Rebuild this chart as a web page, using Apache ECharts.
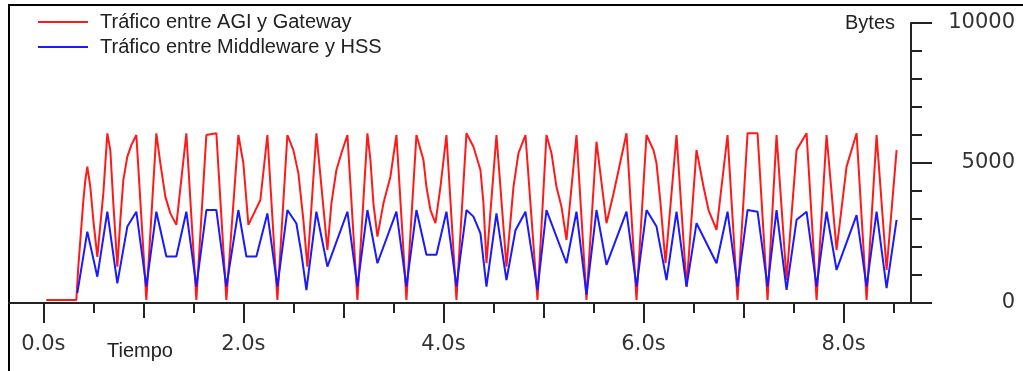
<!DOCTYPE html>
<html><head><meta charset="utf-8">
<script src="https://cdn.jsdelivr.net/npm/echarts@6/dist/echarts.min.js"></script>
<style>html,body{margin:0;padding:0;background:#fff}#c{width:1023px;height:371px}</style>
</head><body><div id="c"></div>
<script>
const seriesNames = ['Tráfico entre AGI y Gateway', 'Tráfico entre Middleware y HSS'];
const yAxisName = 'Bytes';
const xAxisName = 'Tiempo';
// [time (s), bytes]
const redData = [
[0.03,110],[0.33,110],[0.35,1300],[0.40,3650],[0.42,4390],[0.44,4870],[0.47,4150],[0.50,2960],[0.54,1650],
[0.60,3920],[0.64,6060],[0.67,5460],[0.70,3560],[0.74,1300],[0.77,2960],[0.80,4390],[0.84,5230],[0.88,5640],[0.93,6000],
[1.03,110],[1.13,6060],
[1.17,4990],[1.22,3800],[1.27,3200],[1.33,2790],[1.43,6060],[1.53,110],[1.63,6000],[1.73,6060],
[1.83,110],[1.95,6000],[2.00,4990],[2.05,2790],[2.17,3680],[2.24,6000],[2.34,110],[2.44,6000],
[2.50,5460],[2.55,4630],[2.60,2960],[2.64,1300],[2.73,6060],[2.84,1900],[2.88,3560],[2.93,4750],[2.98,5350],[3.04,6000],
[3.14,110],[3.24,6060],[3.27,5110],[3.30,3560],[3.34,2370],[3.40,3560],[3.47,4510],[3.53,6000],
[3.63,110],[3.73,6000],[3.80,5110],[3.83,4150],[3.87,3320],[3.92,2850],[3.97,4150],[4.03,6000],
[4.13,110],[4.23,6060],[4.30,5580],[4.37,4750],[4.40,3560],[4.43,1420],[4.53,6000],[4.63,1300],[4.70,4150],
[4.75,5350],[4.82,6000],[4.94,110],[5.03,6000],[5.08,5350],[5.13,4150],[5.18,3440],[5.23,2250],[5.33,6000],[5.43,110],
[5.53,5760],[5.63,2850],[5.70,3900],[5.83,6060],[5.93,110],[6.03,6000],[6.10,5460],[6.13,4990],[6.17,3560],
[6.22,1420],[6.33,6000],[6.43,586],[6.53,5460],[6.60,4150],[6.65,3320],[6.73,2610],[6.84,6000],
[6.94,110],[7.04,6060],[7.14,6060],[7.24,110],[7.33,6000],[7.43,820],[7.53,5460],[7.63,6060],
[7.73,110],[7.83,6000],[7.93,1900],[8.03,4870],[8.13,6060],[8.23,110],[8.33,6000],[8.43,1180],
[8.53,5460]
];
const blueData = [
[0.34,350],[0.44,2550],[0.54,940],[0.64,3260],[0.74,700],[0.84,2730],[0.93,3260],[1.03,586],
[1.13,3260],[1.23,1660],[1.33,1660],[1.43,3260],[1.53,586],[1.63,3320],[1.73,3320],[1.83,586],
[1.95,3320],[2.03,1660],[2.13,1660],[2.24,3200],[2.34,586],[2.44,3320],[2.53,2840],[2.58,1770],
[2.63,460],[2.73,3260],[2.84,1300],[3.04,3260],[3.14,586],[3.24,3320],[3.34,1420],[3.53,3260],
[3.63,586],[3.73,3320],[3.83,1720],[3.93,1720],[4.03,3260],[4.13,586],[4.23,3320],[4.30,3085],[4.37,2490],
[4.43,586],[4.53,3200],[4.63,820],[4.72,2600],[4.82,3260],[4.94,460],[5.03,3320],[5.23,1420],[5.33,3260],
[5.43,300],[5.53,3320],[5.63,1360],[5.83,3260],[5.93,586],[6.03,3320],[6.13,2730],[6.23,820],[6.33,3260],
[6.43,586],[6.53,2850],[6.73,1420],[6.84,3260],[6.94,586],[7.04,3320],[7.14,3260],[7.24,586],
[7.33,3320],[7.43,470],[7.53,2970],[7.63,3260],[7.73,586],[7.83,3260],[7.93,1180],[8.13,3140],
[8.23,586],[8.33,3260],[8.43,530],[8.53,2970]
];
const xLabelTicks = [0, 2, 4, 6, 8];
const xMidTicks = [1, 3, 5, 7];
const xMinorTicks = [0.5, 1.5, 2.5, 3.5, 4.5, 5.5, 6.5, 7.5, 8.5];
const yMin = 0, yMax = 10000, yStep = 5000;

const chart = echarts.init(document.getElementById('c'), null, {renderer: 'canvas'});
const tickStyle = {color: '#222', width: 2};
const xCommon = {type: 'value', min: -0.343, max: 8.674, position: 'bottom', splitLine: {show: false}, gridIndex: 0};
chart.setOption({
  animation: false,
  backgroundColor: '#fff',
  grid: {left: 9, right: 112, top: 23, bottom: 68, outerBoundsMode: 'none'},
  legend: {
    orient: 'vertical', left: 33, top: 7, itemWidth: 50, itemHeight: 2, icon: 'rect', itemGap: 5,
    textStyle: {fontFamily: 'Liberation Sans', fontSize: 20, color: '#222', padding: [0, 0, 0, 7]},
    data: seriesNames
  },
  xAxis: [
    Object.assign({}, xCommon, {
      axisLine: {show: true, onZero: false, lineStyle: {color: '#222', width: 2}},
      axisTick: {show: true, customValues: xLabelTicks, length: 20, lineStyle: tickStyle},
      axisLabel: {customValues: xLabelTicks, formatter: v => v.toFixed(1) + 's', margin: 31,
        fontFamily: 'DejaVu Sans', fontSize: 21, color: '#333'}
    }),
    Object.assign({}, xCommon, {
      axisLine: {show: false, onZero: false},
      axisTick: {show: true, customValues: xMidTicks, length: 15, lineStyle: tickStyle},
      axisLabel: {show: false}
    }),
    Object.assign({}, xCommon, {
      axisLine: {show: false, onZero: false},
      axisTick: {show: true, customValues: xMinorTicks, length: 10, lineStyle: tickStyle},
      axisLabel: {show: false}
    })
  ],
  yAxis: {
    type: 'value', position: 'right', min: yMin, max: yMax, interval: yStep,
    axisLine: {show: true, onZero: false, lineStyle: {color: '#222', width: 2}},
    axisTick: {show: true, length: 21, lineStyle: tickStyle},
    minorTick: {show: true, splitNumber: 5, length: 11, lineStyle: tickStyle},
    splitLine: {show: false}, minorSplitLine: {show: false},
    axisLabel: {margin: 104, align: 'right', formatter: v => String(v), fontFamily: 'DejaVu Sans', fontSize: 21, color: '#333'},
    name: yAxisName, nameLocation: 'end', nameGap: 0,
    nameTextStyle: {align: 'right', verticalAlign: 'middle', padding: [0, 16, 0, 0],
      fontFamily: 'Liberation Sans', fontSize: 20, color: '#222'}
  },
  graphic: [
    {type: 'rect', shape: {x: 9, y: 5, width: 1100, height: 500}, style: {fill: 'none', stroke: '#000', lineWidth: 2}, silent: true},
    {type: 'text', left: 107, top: 341, style: {text: xAxisName, font: '20px "Liberation Sans"', fill: '#222'}}
  ],
  series: [
    {name: seriesNames[0], type: 'line', data: redData, showSymbol: false, xAxisIndex: 0,
      lineStyle: {color: '#ff1a1a', width: 2}, itemStyle: {color: '#ff1a1a'}},
    {name: seriesNames[1], type: 'line', data: blueData, showSymbol: false, xAxisIndex: 0,
      lineStyle: {color: '#1a1aff', width: 2}, itemStyle: {color: '#1a1aff'}}
  ]
});
</script></body></html>
